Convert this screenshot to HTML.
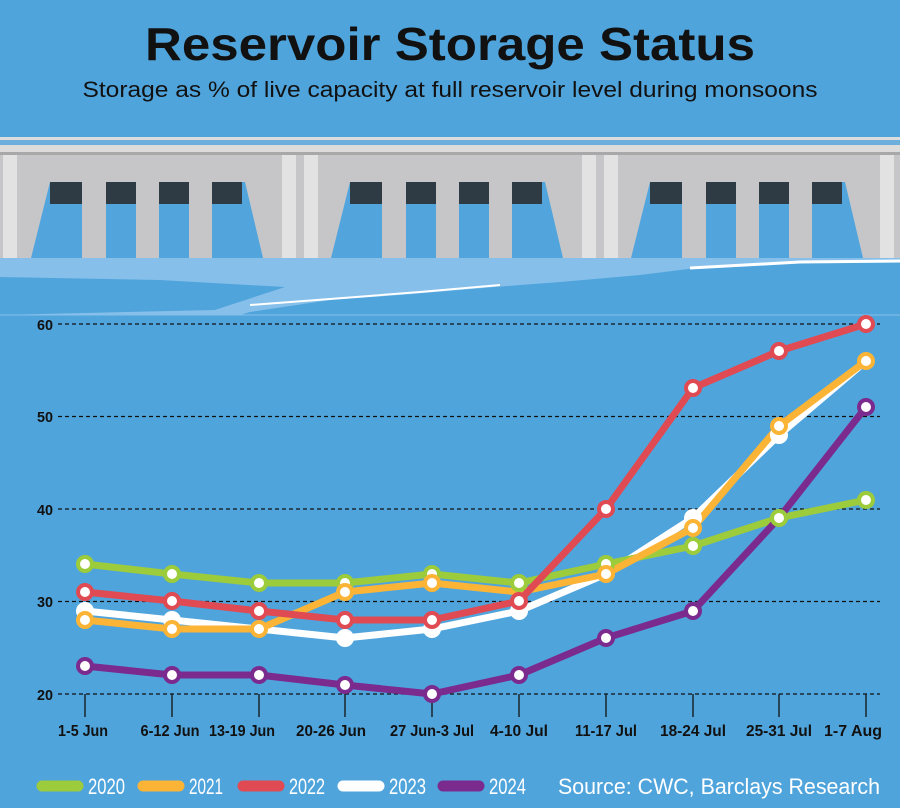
<!DOCTYPE html>
<html><head><style>
body{margin:0;background:#50a4dc;}
svg{display:block}
</style></head><body>
<svg width="900" height="808" viewBox="0 0 900 808" xmlns="http://www.w3.org/2000/svg">
<rect width="900" height="808" fill="#50a4dc"/>
<text x="450" y="60" text-anchor="middle" font-family="Liberation Sans, sans-serif" font-weight="bold" font-size="46" fill="#111" textLength="610" lengthAdjust="spacingAndGlyphs">Reservoir Storage Status</text>
<text x="450" y="97" text-anchor="middle" font-family="Liberation Sans, sans-serif" font-size="22" fill="#111" textLength="735" lengthAdjust="spacingAndGlyphs">Storage as % of live capacity at full reservoir level during monsoons</text>
<rect x="0" y="137" width="900" height="16" fill="#dcdcdc"/>
<rect x="0" y="140" width="900" height="5" fill="#50a4dc" opacity="0.8"/>
<rect x="0" y="152" width="900" height="3" fill="#a8a8a8"/>
<rect x="0" y="155" width="900" height="103" fill="#c6c6c8"/>
<g fill="#e2e2e2">
<rect x="3" y="155" width="14" height="103"/><rect x="282" y="155" width="14" height="103"/><rect x="304" y="155" width="14" height="103"/><rect x="582" y="155" width="14" height="103"/><rect x="604" y="155" width="14" height="103"/><rect x="880" y="155" width="14" height="103"/>
</g>
<g id="gates">
<polygon points="50,182 82,182 82,258 31,258" fill="#52a5dc"/>
<rect x="50" y="182" width="32" height="22" fill="#2e3a44"/>
<rect x="106" y="182" width="30" height="76" fill="#52a5dc"/><rect x="106" y="182" width="30" height="22" fill="#2e3a44"/>
<rect x="159" y="182" width="30" height="76" fill="#52a5dc"/><rect x="159" y="182" width="30" height="22" fill="#2e3a44"/>
<polygon points="212,182 245,182 263,258 212,258" fill="#52a5dc"/>
<rect x="212" y="182" width="30" height="22" fill="#2e3a44"/>
</g>
<use href="#gates" x="300"/>
<use href="#gates" x="600"/>
<rect x="0" y="258" width="900" height="57" fill="#86c0ea"/>
<path d="M0,277 L160,280 L285,287 L215,310 L0,315 Z" fill="#50a4dc"/>
<path d="M250,312 L330,300 L400,295 L520,285 L560,282 L640,275 L720,265 L800,263 L900,262 L900,315 L240,315 Z" fill="#50a4dc"/>
<path d="M250,305 L330,299 L420,292 L500,285" stroke="#fff" stroke-width="2" fill="none"/>
<path d="M690,268 L800,262 L900,261" stroke="#fff" stroke-width="3" fill="none"/>
<line x1="0" y1="315" x2="900" y2="315" stroke="#86c0ea" stroke-width="1"/>
<g stroke="#111" stroke-width="1.3" stroke-dasharray="4,3">
<line x1="58" y1="324" x2="880" y2="324"/><line x1="58" y1="416.5" x2="880" y2="416.5"/><line x1="58" y1="509" x2="880" y2="509"/><line x1="58" y1="601.5" x2="880" y2="601.5"/><line x1="58" y1="694" x2="880" y2="694"/>
</g>
<g font-family="Liberation Sans, sans-serif" font-weight="bold" font-size="15" fill="#111" text-anchor="end">
<text x="53" y="330" textLength="16" lengthAdjust="spacingAndGlyphs">60</text><text x="53" y="422" textLength="16" lengthAdjust="spacingAndGlyphs">50</text><text x="53" y="515" textLength="16" lengthAdjust="spacingAndGlyphs">40</text><text x="53" y="607" textLength="16" lengthAdjust="spacingAndGlyphs">30</text><text x="53" y="700" textLength="16" lengthAdjust="spacingAndGlyphs">20</text>
</g>
<g stroke="#111" stroke-width="1.3">
<line x1="85" y1="694" x2="85" y2="717"/><line x1="172" y1="694" x2="172" y2="717"/><line x1="259" y1="694" x2="259" y2="717"/><line x1="345" y1="694" x2="345" y2="717"/><line x1="432" y1="694" x2="432" y2="717"/><line x1="519" y1="694" x2="519" y2="717"/><line x1="606" y1="694" x2="606" y2="717"/><line x1="693" y1="694" x2="693" y2="717"/><line x1="779" y1="694" x2="779" y2="717"/><line x1="866" y1="694" x2="866" y2="717"/>
</g>
<g font-family="Liberation Sans, sans-serif" font-weight="bold" font-size="16" fill="#111" text-anchor="middle" lengthAdjust="spacingAndGlyphs">
<text x="83" y="736" textLength="50" lengthAdjust="spacingAndGlyphs">1-5 Jun</text><text x="170" y="736" textLength="59" lengthAdjust="spacingAndGlyphs">6-12 Jun</text><text x="242" y="736" textLength="66" lengthAdjust="spacingAndGlyphs">13-19 Jun</text><text x="331" y="736" textLength="70" lengthAdjust="spacingAndGlyphs">20-26 Jun</text><text x="432" y="736" textLength="84" lengthAdjust="spacingAndGlyphs">27 Jun-3 Jul</text><text x="519" y="736" textLength="58" lengthAdjust="spacingAndGlyphs">4-10 Jul</text><text x="606" y="736" textLength="62" lengthAdjust="spacingAndGlyphs">11-17 Jul</text><text x="693" y="736" textLength="66" lengthAdjust="spacingAndGlyphs">18-24 Jul</text><text x="779" y="736" textLength="66" lengthAdjust="spacingAndGlyphs">25-31 Jul</text><text x="853" y="736" textLength="58" lengthAdjust="spacingAndGlyphs">1-7 Aug</text>
</g>
<g fill="none" stroke-width="7" stroke-linejoin="round" stroke-linecap="round">
<polyline stroke="#fff" points="85,611 172,620 259,629 345,638 432,629 519,611 606,574 693,518 779,435 866,361"/>
<polyline stroke="#9ccb3b" points="85,564 172,574 259,583 345,583 432,574 519,583 606,564 693,546 779,518 866,500"/>
<polyline stroke="#fbb436" points="85,620 172,629 259,629 345,592 432,583 519,592 606,574 693,528 779,426 866,361"/>
<polyline stroke="#e04a52" points="85,592 172,601 259,611 345,620 432,620 519,601 606,509 693,388 779,351 866,324"/>
<polyline stroke="#7b2a8e" points="85,666 172,675 259,675 345,685 432,694 519,675 606,638 693,611 779,518 866,407"/>
</g>
<g stroke-width="4" fill="#fff">
<g stroke="#fff"><circle cx="85" cy="611" r="7"/><circle cx="172" cy="620" r="7"/><circle cx="345" cy="638" r="7"/><circle cx="432" cy="629" r="7"/><circle cx="519" cy="611" r="7"/><circle cx="693" cy="518" r="7"/><circle cx="779" cy="435" r="7"/></g>
<g stroke="#9ccb3b"><circle cx="85" cy="564" r="7"/><circle cx="172" cy="574" r="7"/><circle cx="259" cy="583" r="7"/><circle cx="345" cy="583" r="7"/><circle cx="432" cy="574" r="7"/><circle cx="519" cy="583" r="7"/><circle cx="606" cy="564" r="7"/><circle cx="693" cy="546" r="7"/><circle cx="779" cy="518" r="7"/><circle cx="866" cy="500" r="7"/></g>
<g stroke="#fbb436"><circle cx="85" cy="620" r="7"/><circle cx="172" cy="629" r="7"/><circle cx="259" cy="629" r="7"/><circle cx="345" cy="592" r="7"/><circle cx="432" cy="583" r="7"/><circle cx="606" cy="574" r="7"/><circle cx="693" cy="528" r="7"/><circle cx="779" cy="426" r="7"/><circle cx="866" cy="361" r="7"/></g>
<g stroke="#e04a52"><circle cx="85" cy="592" r="7"/><circle cx="172" cy="601" r="7"/><circle cx="259" cy="611" r="7"/><circle cx="345" cy="620" r="7"/><circle cx="432" cy="620" r="7"/><circle cx="519" cy="601" r="7"/><circle cx="606" cy="509" r="7"/><circle cx="693" cy="388" r="7"/><circle cx="779" cy="351" r="7"/><circle cx="866" cy="324" r="7"/></g>
<g stroke="#7b2a8e"><circle cx="85" cy="666" r="7"/><circle cx="172" cy="675" r="7"/><circle cx="259" cy="675" r="7"/><circle cx="345" cy="685" r="7"/><circle cx="432" cy="694" r="7"/><circle cx="519" cy="675" r="7"/><circle cx="606" cy="638" r="7"/><circle cx="693" cy="611" r="7"/><circle cx="866" cy="407" r="7"/></g>
</g>
<g stroke-width="11" stroke-linecap="round">
<line x1="42" y1="786" x2="78" y2="786" stroke="#9ccb3b"/><line x1="143" y1="786" x2="179" y2="786" stroke="#fbb436"/><line x1="243" y1="786" x2="279" y2="786" stroke="#e04a52"/><line x1="343" y1="786" x2="379" y2="786" stroke="#fff"/><line x1="443" y1="786" x2="479" y2="786" stroke="#7b2a8e"/>
</g>
<g font-family="Liberation Sans, sans-serif" font-size="22" fill="#fff">
<text x="88" y="794" textLength="37" lengthAdjust="spacingAndGlyphs">2020</text><text x="189" y="794" textLength="34" lengthAdjust="spacingAndGlyphs">2021</text><text x="289" y="794" textLength="36" lengthAdjust="spacingAndGlyphs">2022</text><text x="389" y="794" textLength="37" lengthAdjust="spacingAndGlyphs">2023</text><text x="489" y="794" textLength="37" lengthAdjust="spacingAndGlyphs">2024</text>
<text x="880" y="794" text-anchor="end" textLength="322" lengthAdjust="spacingAndGlyphs">Source: CWC, Barclays Research</text>
</g>
</svg>
</body></html>
